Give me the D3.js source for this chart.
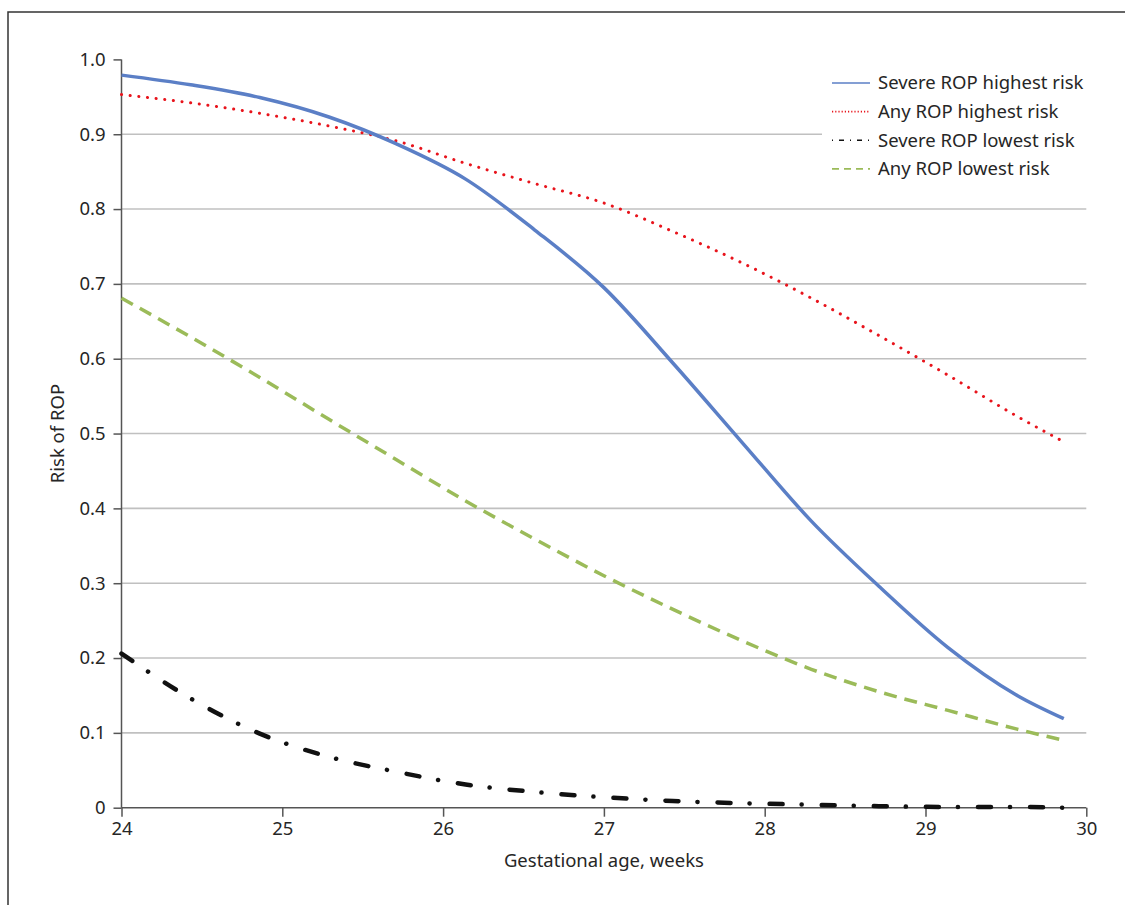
<!DOCTYPE html>
<html>
<head>
<meta charset="utf-8">
<script src="https://cdn.jsdelivr.net/npm/d3@7"></script>
<style>
  body { margin: 0; background: #fff; }
  svg text { font-family: "Noto Sans", "Open Sans", sans-serif; fill: #262626; }
</style>
</head>
<body>
<svg id="chart"></svg>
<script>
// gestational age (weeks + days), every 3 days
const gaWeeks = [24, 24.43, 24.86, 25.29, 25.71, 26.14, 26.57, 27, 27.43, 27.86, 28.29, 28.71, 29.14, 29.57, 29.86];

const severeHighest = [0.979, 0.966, 0.949, 0.923, 0.887, 0.840, 0.772, 0.695, 0.594, 0.488, 0.383, 0.296, 0.214, 0.150, 0.119];
const anyHighest = [0.953, 0.942, 0.928, 0.911, 0.891, 0.861, 0.834, 0.808, 0.770, 0.728, 0.681, 0.631, 0.578, 0.523, 0.489];
const severeLowest = [0.206, 0.146, 0.099, 0.068, 0.048, 0.031, 0.021, 0.014, 0.009, 0.006, 0.004, 0.002, 0.001, 0.001, 0.000];
const anyLowest = [0.681, 0.629, 0.575, 0.519, 0.465, 0.410, 0.359, 0.310, 0.265, 0.223, 0.185, 0.155, 0.130, 0.105, 0.090];

const seriesNames = ["Severe ROP highest risk", "Any ROP highest risk", "Severe ROP lowest risk", "Any ROP lowest risk"];
const xTicks = [24, 25, 26, 27, 28, 29, 30];
const yTicks = [0, 0.1, 0.2, 0.3, 0.4, 0.5, 0.6, 0.7, 0.8, 0.9, 1.0];

const width = 1125;
const height = 905;
const fontSize = "18.5px";

const series = [
    { name: seriesNames[0], values: severeHighest, color: "#5b7fc6", width: 3.5, dash: null, cap: "butt",
      legendDash: null, legendWidth: 1.6 },
    { name: seriesNames[1], values: anyHighest, color: "#e8141c", width: 3, dash: "0.1,8.6", cap: "round",
      legendDash: "1.2,2", legendWidth: 1.6 },
    { name: seriesNames[2], values: severeLowest, color: "#111", width: 4.5, dash: "13,19,0.1,20", cap: "round",
      legendDash: "1,6,5,6", legendWidth: 1.6 },
    { name: seriesNames[3], values: anyLowest, color: "#9bbb59", width: 3.5, dash: "13,8", cap: "butt",
      legendDash: "7,5", legendWidth: 1.8 }
];

const svg = d3.select("#chart")
    .attr("width", width)
    .attr("height", height);

// outer frame
svg.append("rect")
    .attr("x", 8)
    .attr("y", 12)
    .attr("width", 1200)
    .attr("height", 1000)
    .attr("fill", "none")
    .attr("stroke", "#333")
    .attr("stroke-width", 1.5);

const x = d3.scaleLinear().domain([24, 30]).range([121.5, 1086.3]);
const y = d3.scaleLinear().domain([0, 1]).range([807.7, 59.4]);

// grid
svg.append("g")
    .selectAll("line")
    .data(yTicks.filter(t => t > 0 && t < 1))
    .enter().append("line")
    .attr("x1", x(24))
    .attr("x2", x(30))
    .attr("y1", d => y(d))
    .attr("y2", d => y(d))
    .attr("stroke", "#c0c0c0")
    .attr("stroke-width", 1.6);

// axes
const yAxis = svg.append("g")
    .attr("transform", `translate(${x(24)},0)`)
    .call(d3.axisLeft(y).tickValues(yTicks).tickSize(8).tickPadding(8)
        .tickFormat(d => d === 0 ? "0" : d3.format(".1f")(d)));

const xAxis = svg.append("g")
    .attr("transform", `translate(0,${y(0)})`)
    .call(d3.axisBottom(x).tickValues(xTicks).tickSize(9).tickPadding(5).tickFormat(d3.format("d")));

[xAxis, yAxis].forEach(ax => {
    ax.select(".domain").attr("stroke", "#555").attr("stroke-width", 1.5);
    ax.selectAll(".tick line").attr("stroke", "#555").attr("stroke-width", 1.5);
    ax.selectAll(".tick text").style("font-size", fontSize).attr("fill", "#262626");
});
// plain domain lines, no end caps
yAxis.select(".domain").attr("d", `M0,${y(1)}V${y(0)}`);
xAxis.select(".domain").attr("d", `M${x(24)},0H${x(30)}`);

// titles
svg.append("text")
    .attr("x", (x(24) + x(30)) / 2)
    .attr("y", 867)
    .attr("text-anchor", "middle")
    .style("font-size", fontSize)
    .text("Gestational age, weeks");

svg.append("text")
    .attr("transform", `translate(64,${(y(0) + y(1)) / 2}) rotate(-90)`)
    .attr("text-anchor", "middle")
    .style("font-size", fontSize)
    .text("Risk of ROP");

// lines
const line = d3.line()
    .x((d, i) => x(gaWeeks[i]))
    .y(d => y(d))
    .curve(d3.curveMonotoneX);

// bottom series first so the blue sits on top
[2, 3, 1, 0].forEach(k => {
    const s = series[k];
    svg.append("path")
        .datum(s.values)
        .attr("d", line)
        .attr("fill", "none")
        .attr("stroke", s.color)
        .attr("stroke-width", s.width)
        .attr("stroke-linecap", s.cap)
        .attr("stroke-linejoin", "round")
        .attr("stroke-dasharray", s.dash);
});

// legend
const legend = svg.append("g");

legend.append("rect")
    .attr("x", 822)
    .attr("y", 66)
    .attr("width", 272)
    .attr("height", 118)
    .attr("fill", "#fff");

const rows = legend.selectAll(".row")
    .data(series)
    .enter().append("g")
    .attr("class", "row")
    .attr("transform", (d, i) => `translate(0,${83 + i * 28.6})`);

rows.append("line")
    .attr("x1", 832)
    .attr("x2", 870)
    .attr("y1", 0)
    .attr("y2", 0)
    .attr("stroke", d => d.color)
    .attr("stroke-width", d => d.legendWidth)
    .attr("stroke-dasharray", d => d.legendDash);

rows.append("text")
    .attr("x", 878)
    .attr("y", 0)
    .attr("dy", ".35em")
    .style("font-size", fontSize)
    .text(d => d.name);
</script>
</body>
</html>
